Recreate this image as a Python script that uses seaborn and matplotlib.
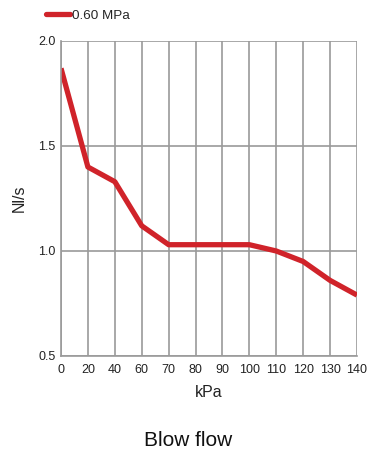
import matplotlib
matplotlib.use("Agg")
import matplotlib.pyplot as plt
import seaborn as sns
import pandas as pd
from matplotlib.lines import Line2D

pressure_kpa = ["0", "20", "40", "60", "70", "80", "90", "100", "110", "120", "130", "140"]
flow_nls = [1.87, 1.40, 1.33, 1.12, 1.03, 1.03, 1.03, 1.03, 1.00, 0.95, 0.86, 0.79]
series_name = "0.60 MPa"
y_ticks = [0.5, 1.0, 1.5, 2.0]

sns.set_theme(style="white")
plt.rcParams["font.family"] = ["Liberation Sans", "DejaVu Sans"]

df = pd.DataFrame({"kPa": pressure_kpa, "Nl/s": flow_nls, "series": series_name})

fig = plt.figure(figsize=(3.77, 4.51), dpi=100)
ax = fig.add_axes([61/377, 1-356/451, (357-61)/377, (356-41)/451])

sns.lineplot(data=df, x="kPa", y="Nl/s", hue="series", palette=["#d0232a"],
             linewidth=3.8, ax=ax, sort=False, legend=False, solid_capstyle="butt")

ax.set_xlim(0, len(pressure_kpa) - 1)
ax.set_ylim(0.5, 2.0)
ax.set_yticks(y_ticks)
ax.set_yticklabels([f"{v:.1f}" for v in y_ticks])
ax.grid(True, color="#9a9a9a", linewidth=1.2)
ax.set_axisbelow(True)
for s in ["top", "right"]:
    ax.spines[s].set_visible(False)
for s in ["left", "bottom"]:
    ax.spines[s].set_color("#9a9a9a")
    ax.spines[s].set_linewidth(1.2)
ax.tick_params(axis="both", length=0, labelsize=9, colors="#222222")
ax.tick_params(axis="x", pad=6)
ax.tick_params(axis="y", pad=4)
ax.set_xlabel("kPa", fontsize=11.5, color="#222222", labelpad=6)
ax.set_ylabel("Nl/s", fontsize=11.5, color="#222222", labelpad=8)

handle = Line2D([], [], color="#d0232a", linewidth=3.8)
fig.legend([handle], [series_name], loc="center left",
           bbox_to_anchor=(46/377, 1-16/451), frameon=False, fontsize=9.7,
           handlelength=1.8, handletextpad=0.15, borderpad=0, borderaxespad=0)

fig.text(0.5, 1-441/451, "Blow flow", ha="center", va="center", fontsize=15, color="#111111")

fig.savefig("out.png", dpi=100)
